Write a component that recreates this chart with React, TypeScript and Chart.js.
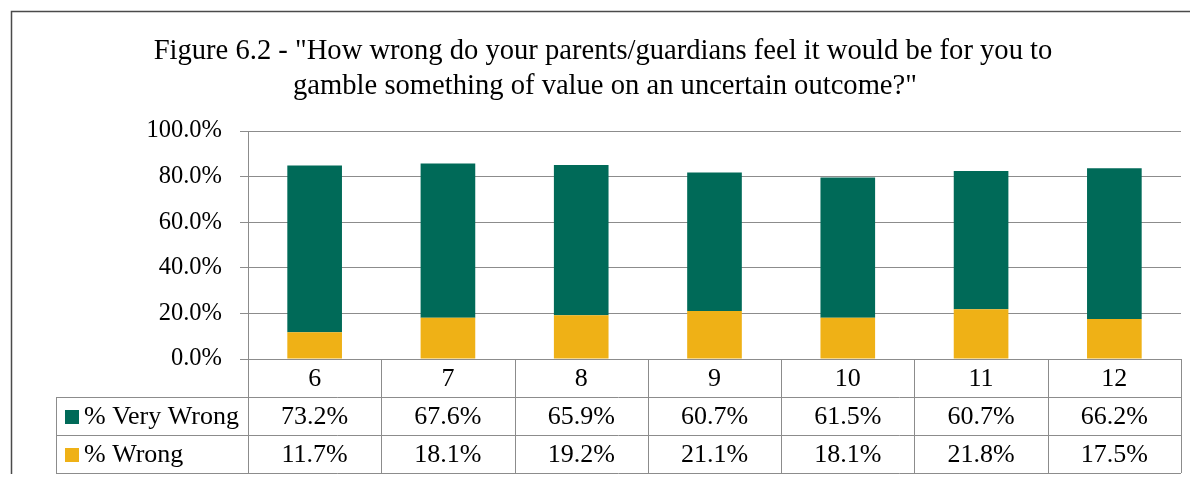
import React, { useEffect, useRef } from "react";
import { Chart, registerables } from "chart.js";

Chart.register(...registerables);

const categories = ["6", "7", "8", "9", "10", "11", "12"];
const veryWrong = [73.2, 67.6, 65.9, 60.7, 61.5, 60.7, 66.2];
const wrong = [11.7, 18.1, 19.2, 21.1, 18.1, 21.8, 17.5];
const seriesNames = ["% Very Wrong", "% Wrong"];
const titleLines = [
  'Figure 6.2 - "How wrong do your parents/guardians feel it would be for you to',
  'gamble something of value on an uncertain outcome?"',
];

const GREEN = "#006a58";
const YELLOW = "#efb116";
const GRID = "#8c8c8c";
const FONT = '"Liberation Serif", "Times New Roman", serif';
const W = 1182;
const H = 466;

const tablePlugin = {
  id: "tablePlugin",
  afterDraw(chart: any) {
    const ctx = chart.ctx as CanvasRenderingContext2D;
    const area = chart.chartArea;
    const n = categories.length;
    const colW = (area.right - area.left) / n;
    const rowH = 38;
    const top = area.bottom;
    const legendLeft = 48;
    ctx.save();
    // frame
    ctx.strokeStyle = "#4a4a4a";
    ctx.lineWidth = 1.5;
    ctx.beginPath();
    ctx.moveTo(3.5, H);
    ctx.lineTo(3.5, 3.5);
    ctx.lineTo(W, 3.5);
    ctx.stroke();

    // title
    ctx.fillStyle = "#000";
    ctx.font = `28.6px ${FONT}`;
    ctx.textAlign = "center";
    ctx.textBaseline = "middle";
    ctx.fillText(titleLines[0], 595, 43);
    ctx.fillText(titleLines[1], 597, 78);

    // table lines
    ctx.strokeStyle = GRID;
    ctx.lineWidth = 1;
    ctx.beginPath();
    for (let i = 0; i <= n; i++) {
      const x = Math.round(area.left + i * colW) + 0.5;
      ctx.moveTo(x, top);
      ctx.lineTo(x, top + 3 * rowH);
    }
    for (let r = 1; r <= 3; r++) {
      const y = Math.round(top + r * rowH) + 0.5;
      ctx.moveTo(legendLeft, y);
      ctx.lineTo(area.right, y);
    }
    ctx.moveTo(legendLeft + 0.5, top + rowH);
    ctx.lineTo(legendLeft + 0.5, top + 3 * rowH);
    ctx.stroke();

    // texts
    ctx.font = `26px ${FONT}`;
    ctx.textAlign = "center";
    ctx.textBaseline = "middle";
    ctx.fillStyle = "#000";
    const rows = [veryWrong, wrong];
    for (let i = 0; i < n; i++) {
      const cx = chart.scales.x.getPixelForValue(i);
      ctx.fillText(categories[i], cx, top + rowH / 2 + 1);
      rows.forEach((row, r) => {
        ctx.fillText(row[i].toFixed(1) + "%", cx, top + rowH * (r + 1.5) + 1);
      });
    }
    // legend
    const colors = [GREEN, YELLOW];
    ctx.textAlign = "left";
    seriesNames.forEach((name, r) => {
      const cy = top + rowH * (r + 1.5);
      ctx.fillStyle = colors[r];
      ctx.fillRect(legendLeft + 9, cy - 6, 14, 14);
      ctx.fillStyle = "#000";
      ctx.fillText(name, legendLeft + 28, cy + 1);
    });
    ctx.restore();
  },
};

export default function App() {
  const ref = useRef<HTMLCanvasElement>(null);
  useEffect(() => {
    if (!ref.current) return;
    const chart = new Chart(ref.current, {
      type: "bar",
      data: {
        labels: categories,
        datasets: [
          { label: seriesNames[1], data: wrong, backgroundColor: YELLOW },
          { label: seriesNames[0], data: veryWrong, backgroundColor: GREEN },
        ],
      },
      options: {
        responsive: false,
        animation: false,
        devicePixelRatio: 1,
        layout: { padding: { top: 123, right: 9, left: 0, bottom: 0 } },
        plugins: { legend: { display: false }, title: { display: false }, tooltip: { enabled: false } },
        datasets: { bar: { barPercentage: 0.41, categoryPercentage: 1 } },
        scales: {
          x: {
            stacked: true,
            ticks: { display: false },
            grid: { display: false },
            border: { display: false },
            afterFit: (s: any) => {
              s.height = H - 351;
            },
          },
          y: {
            stacked: true,
            min: 0,
            max: 100,
            ticks: {
              stepSize: 20,
              padding: 18,
              color: "#000",
              font: { family: FONT, size: 24.5 },
              callback: (v: any) => Number(v).toFixed(1) + "%",
            },
            grid: { color: GRID, tickLength: 8, drawTicks: true },
            border: { color: GRID },
            afterFit: (s: any) => {
              s.width = 240;
            },
          },
        },
      },
      plugins: [tablePlugin],
    });
    return () => chart.destroy();
  }, []);
  return (
    <div style={{ width: W, height: H }}>
      <canvas ref={ref} width={W} height={H} style={{ display: "block", width: W, height: H }} />
    </div>
  );
}
